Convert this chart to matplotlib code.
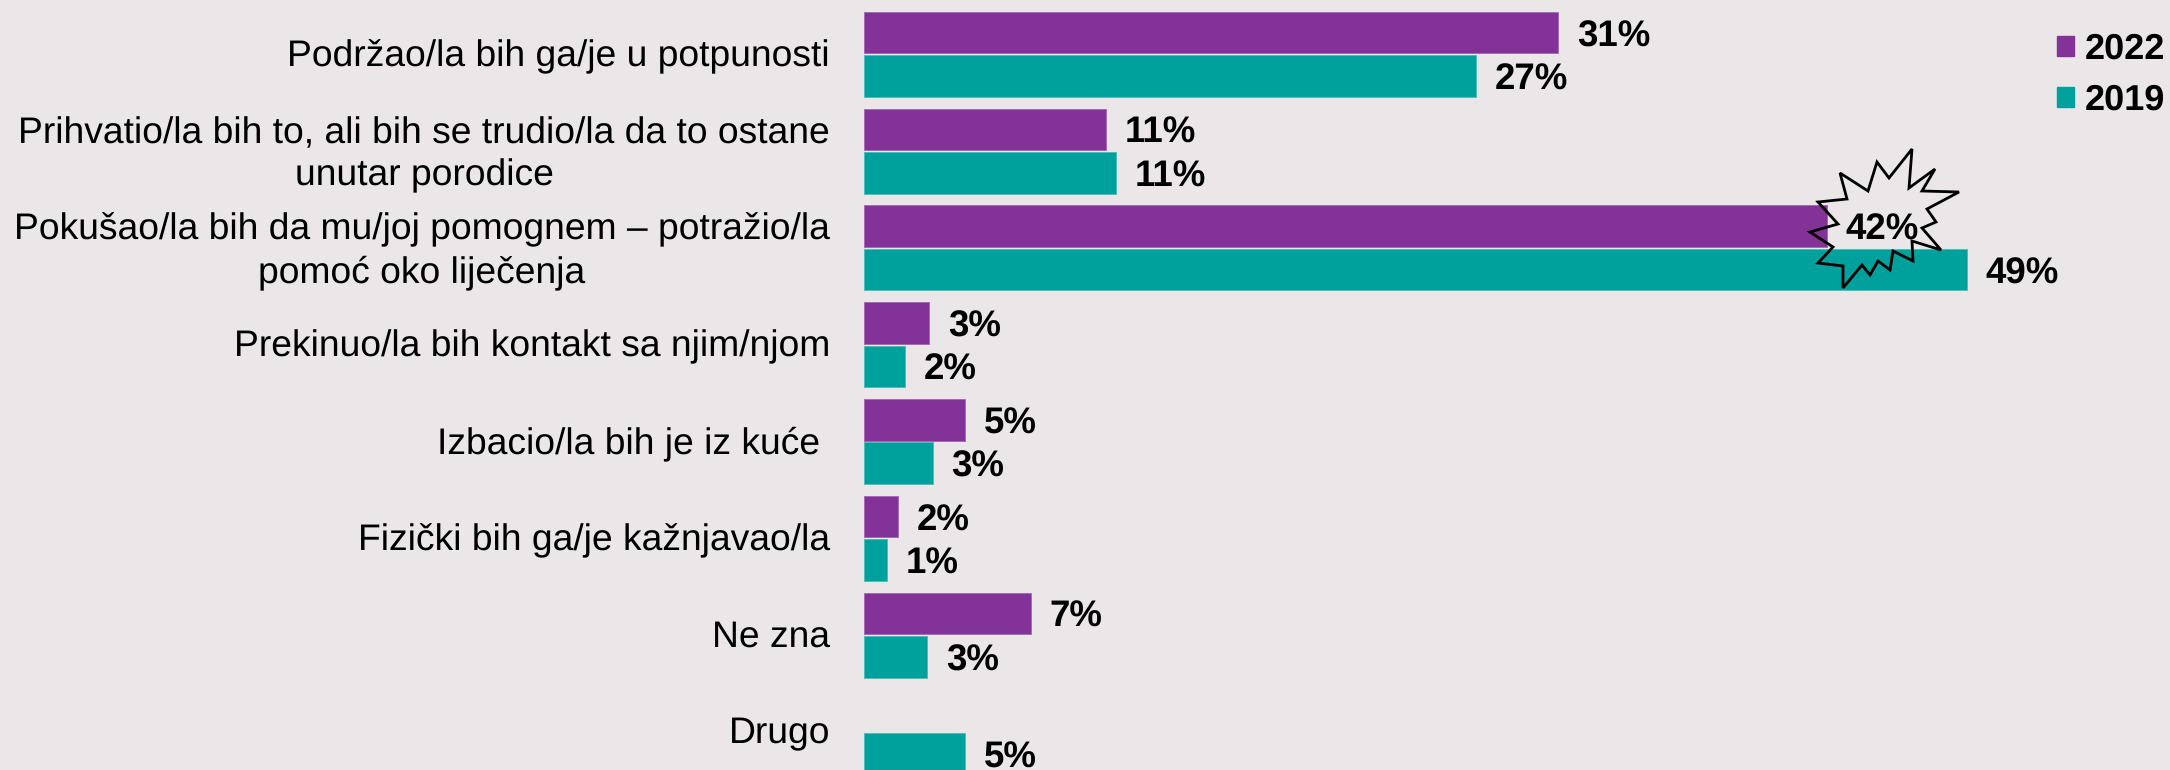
import matplotlib
matplotlib.use("Agg")
import matplotlib.pyplot as plt
import numpy as np
from matplotlib.patches import Patch, Polygon
from matplotlib.transforms import Affine2D

categories = [
    "Podržao/la bih ga/je u potpunosti",
    "Prihvatio/la bih to, ali bih se trudio/la da to ostane\nunutar porodice",
    "Pokušao/la bih da mu/joj pomognem – potražio/la\npomoć oko liječenja",
    "Prekinuo/la bih kontakt sa njim/njom",
    "Izbacio/la bih je iz kuće ",
    "Fizički bih ga/je kažnjavao/la",
    "Ne zna",
    "Drugo",
]
# bar lengths differ a bit from the rounded labels, no 2022 bar for Drugo
values_2022 = [30.85, 10.75, 42.8, 2.9, 4.5, 1.5, 7.4, np.nan]
values_2019 = [27.2, 11.2, 49.0, 1.8, 3.05, 1.0, 2.8, 4.5]
labels_2022 = ["31%", "11%", "42%", "3%", "5%", "2%", "7%", ""]
labels_2019 = ["27%", "11%", "49%", "2%", "3%", "1%", "3%", "5%"]

PURPLE = "#833297"
TEAL = "#00A09D"
BG = "#EBE7E8"
W, H = 2170, 770

# outline of the starburst, in reference pixels
burst_x = [1912, 1909, 1935, 1922, 1959, 1927, 1936, 1922, 1941, 1912, 1913, 1893, 1890, 1878,
           1870, 1862, 1843, 1843, 1818, 1833, 1810, 1838, 1818, 1847, 1840, 1868, 1877, 1889]
burst_y = [149, 188, 169, 191, 192, 209, 222, 228, 250, 241, 261, 251, 270, 261,
           275, 265, 288, 266, 263, 247, 232, 224, 202, 199, 173, 191, 162, 178]

plt.rcParams["font.family"] = ["Liberation Sans", "DejaVu Sans"]
plt.rcParams["text.kerning_factor"] = 0
plt.rcParams["text.hinting"] = "no_hinting"

fig = plt.figure(figsize=(W / 100, H / 100), dpi=100, facecolor=BG)
ax = fig.add_axes([864 / W, 0, 1 - 864 / W, 1])
ax.set_facecolor("none")

y = np.arange(len(categories))
bar_h = 0.429
off = 0.2245
ax.barh(y - off, values_2022, bar_h, color=PURPLE, edgecolor="#A56BB5", linewidth=0.7, label="2022")
ax.barh(y + off, values_2019, bar_h, color=TEAL, edgecolor="#4DBDBA", linewidth=0.7, label="2019")

ax.set_xlim(0, (W - 864) / 22.5)
ax.set_ylim((H - 54.3) / 96.8, -54.3 / 96.8)

# two line labels sit a little higher than the group centre
tick_y = [i - 0.045 if "\n" in c else i - 0.02 for i, c in enumerate(categories)]
ax.set_yticks(tick_y)
ax.set_yticklabels(categories, fontsize=26.8, linespacing=1.3, multialignment="center")
ax.tick_params(axis="y", length=0, pad=24.5)
ax.set_xticks([])
for s in ax.spines.values():
    s.set_visible(False)

for ys, vals, labs in [(y - off, values_2022, labels_2022), (y + off, values_2019, labels_2019)]:
    for yy, v, lab in zip(ys, vals, labs):
        if not lab:
            continue
        ax.annotate(lab, (v, yy), xytext=(13.5, -3), textcoords="offset points", va="center",
                    fontsize=26.4, fontweight="bold", color="black", annotation_clip=False)

px = Affine2D().scale(1, -1).translate(0, H)
ax.add_patch(Polygon(np.column_stack([burst_x, burst_y]), closed=True, fill=False,
                     edgecolor="black", linewidth=2, transform=px, clip_on=False, zorder=5))

handles = [Patch(color=PURPLE, label="2022"), Patch(color=TEAL, label="2019")]
ax.legend(handles=handles, loc="upper right", bbox_to_anchor=(1 - 5 / 1306, 1 - 33 / H), frameon=False,
          prop={"size": 26, "weight": "bold"}, handlelength=0.47, handleheight=0.47,
          handletextpad=0.29, labelspacing=0.48, borderaxespad=0, borderpad=0)

fig.savefig("out.png", dpi=100, facecolor=BG)
